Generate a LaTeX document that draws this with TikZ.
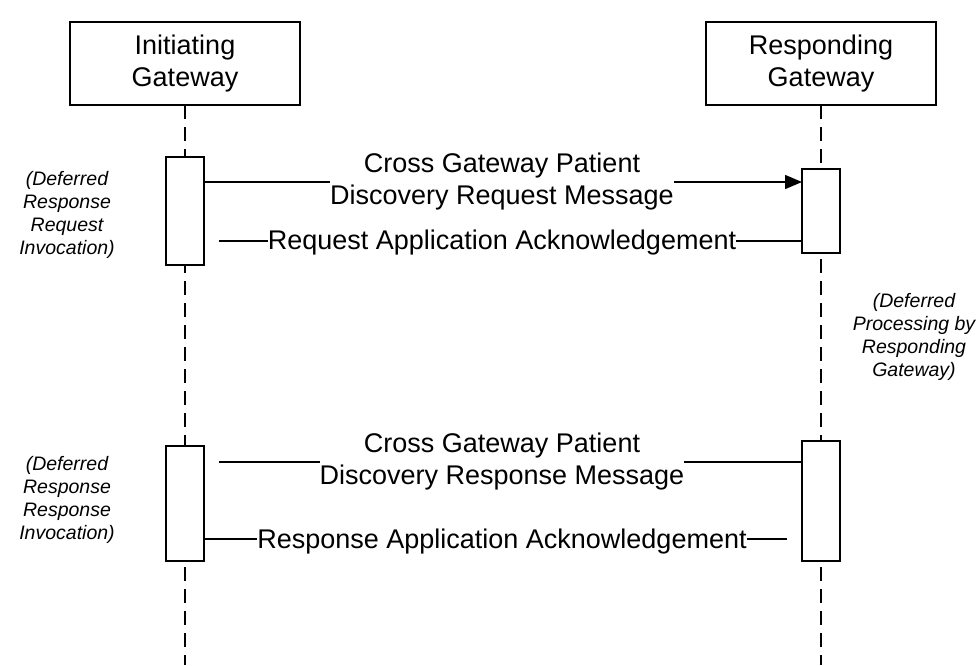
\documentclass[tikz,border=0pt]{standalone}
\usepackage{fontspec}
\setmainfont{Liberation Sans}
\usetikzlibrary{arrows.meta}
\begin{document}
\begin{tikzpicture}[x=1pt,y=-1pt,
  every node/.style={inner sep=0pt, outer sep=0pt},
  actor/.style={draw, line width=1.5pt, minimum width=230pt, minimum height=83pt, align=center, font=\fontsize{27}{32}\selectfont},
  act/.style={draw, fill=white, line width=1.5pt, minimum width=38pt},
  life/.style={line width=1.5pt, dash pattern=on 14pt off 8pt},
  msg/.style={line width=1.5pt},
  lbl/.style={fill=white, align=center, font=\fontsize{27}{32}\selectfont},
  note/.style={align=center, font=\fontsize{19.5}{23}\selectfont\itshape},
]
\useasboundingbox (0,0) rectangle (977,665);
\node[actor] (ig) at (185,63.5) {Initiating\\Gateway};
\node[actor] (rg) at (821,63.5) {Responding\\Gateway};
\coordinate (iend) at (185,665);
\coordinate (rend) at (821,665);
\draw[life] (ig.south) -- (iend);
\draw[life] (rg.south) -- (rend);

\node[act, minimum height=108pt] (la1) at (185,211) {};
\node[act, minimum height=84pt] (ra1) at (821,211) {};
\node[act, minimum height=115pt] (la2) at (185,503.5) {};
\node[act, minimum height=120pt] (ra2) at (821,501) {};

\coordinate (m1) at (502,182);
\coordinate (m2) at (502,241);
\coordinate (m2s) at (219,241);
\coordinate (m3) at (502,462);
\coordinate (m3s) at (219,462);
\coordinate (m4) at (502,539);
\coordinate (m4e) at (787,539);

\draw[msg,-{Triangle[length=17pt,width=14pt]}] (la1.east |- m1) -- (ra1.west |- m1);
\draw[msg] (ra1.west |- m2) -- (m2s);
\draw[msg] (ra2.west |- m3) -- (m3s);
\draw[msg] (la2.east |- m4) -- (m4e);

\node[lbl] (t1) at (m1) {Cross Gateway Patient\\Discovery Request Message};
\node[lbl, yshift=-2pt] (t2) at (m2) {Request Application Acknowledgement};
\node[lbl] (t3) at (m3) {Cross Gateway Patient\\Discovery Response Message};
\node[lbl, yshift=-3pt] (t4) at (m4) {Response Application Acknowledgement};

\node[note] (n1) at (67,215) {(Deferred\\Response\\Request\\Invocation)};
\node[note] (n2) at (67,500) {(Deferred\\Response\\Response\\Invocation)};
\node[note] (n3) at (914,337) {(Deferred\\Processing by\\Responding\\Gateway)};
\end{tikzpicture}
\end{document}
